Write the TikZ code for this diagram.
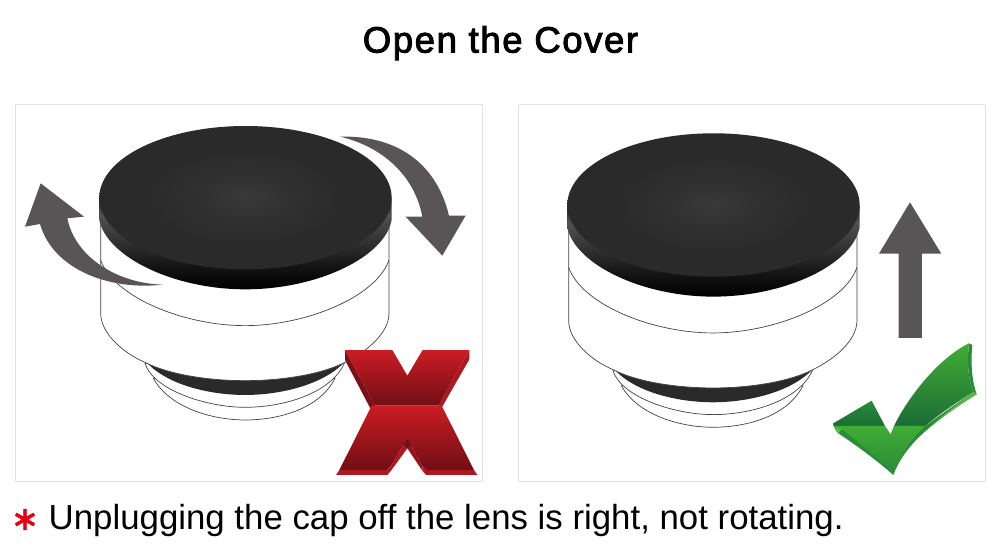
\documentclass[tikz,border=0pt]{standalone}
\usepackage{fontspec}
\setmainfont{Liberation Sans}
\newfontfamily\titlefont[FakeBold=2.6,LetterSpace=4.4]{Liberation Sans}
\newfontfamily\markfont[FakeBold=2.2]{DejaVu Sans}
\definecolor{arrowgrey}{HTML}{595556}
\definecolor{panelline}{HTML}{E3E3E3}
\definecolor{outline}{HTML}{444444}
\definecolor{capmid}{HTML}{393939}
\definecolor{capinner}{HTML}{303030}
\definecolor{capedge}{HTML}{2A2A2A}
\definecolor{xhi}{HTML}{CC1C24}
\definecolor{xlo}{HTML}{6E0F14}
\definecolor{xside}{HTML}{B0181F}
\definecolor{ghi}{HTML}{41AC35}
\definecolor{glo}{HTML}{1B6C36}
\definecolor{gmid}{HTML}{2A8C38}
\definecolor{gedge}{HTML}{58B947}
\pgfdeclareverticalshading{capside}{100bp}{
  color(0bp)=(black); color(25bp)=(black); color(38bp)=(black!92!white);
  color(52bp)=(black!80!white); color(66bp)=(black!68!white);
  color(72bp)=(black!82!white); color(75bp)=(black!85!white); color(100bp)=(black!85!white)}
\pgfdeclareradialshading{capface}{\pgfpoint{0bp}{0bp}}{
  color(0bp)=(capmid); color(8bp)=(capinner); color(17bp)=(capedge); color(50bp)=(capedge)}
\tikzset{
  panel/.style={draw=panelline,line width=0.8pt,fill=white},
  lensline/.style={draw=outline,line width=0.7pt,line join=round},
  turnarrow/.style={fill=arrowgrey},
  caption/.style={inner sep=0pt,anchor=base west,text=black}
}
% one lens, in tripled pixel units
\newcommand{\lensbody}{
  % threaded lower rings
  \draw[lensline,fill=white] (430,835) .. controls (480,925) and (610,960) .. (705,960)
    .. controls (810,960) and (930,925) .. (975,835) -- cycle;
  \draw[lensline,fill=white] (405,790) .. controls (430,870) and (590,922) .. (705,922)
    .. controls (830,922) and (970,875) .. (1005,785) -- cycle;
  \fill[capedge] (408,785) .. controls (470,855) and (600,885) .. (705,885)
    .. controls (810,885) and (940,855) .. (1005,785) -- cycle;
  % main barrel
  \draw[lensline,fill=white] (272,300) -- (272,640)
    .. controls (272,700) and (340,760) .. (405,787)
    .. controls (480,825) and (600,842) .. (705,842)
    .. controls (810,842) and (930,825) .. (1005,787)
    .. controls (1070,755) and (1137,700) .. (1137,640) -- (1137,300) -- cycle;
  \draw[lensline] (272,480) .. controls (310,590) and (520,677) .. (705,677)
    .. controls (890,677) and (1100,590) .. (1137,480);
  % cap rim and top face
  \shade[shading=capside] (268,295) -- (268,360)
    .. controls (290,470) and (490,568) .. (706,568)
    .. controls (925,568) and (1125,470) .. (1145,360) -- (1145,295) -- cycle;
  \shade[shading=capface] (706.5,293) ellipse [x radius=438.5,y radius=215];
}
\begin{document}
\begin{tikzpicture}[x=1pt,y=-1pt]
\useasboundingbox (0,0) rectangle (1000,554);
\fill[white] (0,0) rectangle (1000,554);
\node[inner sep=0pt,anchor=base,font=\titlefont\fontsize{36.5}{38}\selectfont] (title) at (500.5,52.5) {Open the Cover};
\draw[panel] (15.5,104.5) rectangle (482.5,481.5);
\draw[panel] (518.5,104.5) rectangle (985.5,481.5);

% left panel: rotating the cap
\begin{scope}[shift={(10,100)},x=0.3333pt,y=-0.3333pt]
  \lensbody
  \fill[turnarrow] (92,250) -- (222,350) -- (172,355)
    .. controls (195,470) and (320,550) .. (458,554)
    .. controls (300,572) and (130,510) .. (90,372) -- (45,380) -- cycle;
  \fill[turnarrow] (990,110) .. controls (1160,105) and (1280,190) .. (1317,347)
    -- (1367,347) -- (1297,467) -- (1187,350) -- (1237,350)
    .. controls (1215,230) and (1120,140) .. cycle;
\end{scope}

% red cross
\begin{scope}[shift={(330,340)},x=0.3333pt,y=-0.3333pt]
  \fill[xside!70!black] (45,30) -- (45,60) -- (122,207) -- (135,197) -- cycle;
  \fill[xside] (418,30) -- (418,58) -- (335,203) -- (325,197) -- cycle;
  \shade[top color=xhi,bottom color=xlo] (45,30) -- (187,30) -- (232,107) -- (278,30)
    -- (418,30) -- (325,197) -- (135,197) -- cycle;
  \shade[top color=xhi,bottom color=xlo] (125,197) -- (335,197) -- (432,390) -- (290,390)
    -- (277,378) -- (232,295) -- (183,378) -- (170,390) -- (28,390) -- cycle;
  \fill[xside] (18,405) -- (28,390) -- (170,390) -- (183,378) -- (183,392) -- (172,405) -- cycle;
  \fill[xside] (442,405) -- (432,390) -- (290,390) -- (277,378) -- (277,392) -- (288,405) -- cycle;
  % inner faces of the lower notch
  \fill[xside] (232,295) -- (183,378) -- (183,392) -- (232,325) -- cycle;
  \fill[xside!85!black] (232,295) -- (277,378) -- (277,392) -- (232,325) -- cycle;
  \fill[xlo] (232,295) -- (220,315) -- (232,325) -- (244,315) -- cycle;
\end{scope}

% right panel: lifting the cap straight off
\begin{scope}[shift={(478,107.3)},x=0.3333pt,y=-0.3333pt]
  \lensbody
\end{scope}
\begin{scope}[shift={(515,100)},x=0.3333pt,y=-0.3333pt]
  \fill[turnarrow] (1185,307) -- (1279,461) -- (1221,461) -- (1221,714)
    -- (1151,714) -- (1151,461) -- (1092,461) -- cycle;
\end{scope}

% green tick
\begin{scope}[shift={(825,335)},x=0.3333pt,y=-0.3333pt]
  % rim along the lower edge and the right end
  \fill[gmid] (25,263) .. controls (26,275) and (30,285) .. (40,295)
    .. controls (100,335) and (160,380) .. (205,420)
    .. controls (225,365) and (265,320) .. (305,285)
    .. controls (350,245) and (400,210) .. (455,178)
    -- (445,170) -- (300,273) -- (205,300) -- (100,285) -- (50,283) -- cycle;
  \fill[gmid] (432,25) -- (442,30) .. controls (436,90) and (442,140) .. (455,178)
    -- (445,170) .. controls (430,130) and (425,90) .. (432,25) -- cycle;
  \fill[gedge] (445,170) -- (455,178) .. controls (380,225) and (335,260) .. (300,290)
    .. controls (340,250) and (400,205) .. (445,170) -- cycle;
  \fill[gedge] (25,263) .. controls (26,275) and (30,285) .. (40,295) -- (50,283) -- (25,270) -- cycle;
  % faces
  \shade[top color=gmid,bottom color=glo] (25,265) -- (140,197) -- (180,273) -- (25,273) -- cycle;
  \shade[top color=ghi,bottom color=glo] (207,273)
    .. controls (250,185) and (340,70) .. (432,25)
    .. controls (425,90) and (430,130) .. (445,170)
    .. controls (390,205) and (340,240) .. (300,273) -- cycle;
  \shade[top color=ghi,bottom color=gmid] (25,273) -- (180,273) -- (197,298) -- (207,273)
    -- (300,273) .. controls (260,310) and (225,360) .. (205,412)
    .. controls (160,370) and (100,320) .. (50,283) -- cycle;
\end{scope}

\node[inner sep=0pt,text={rgb,255:red,230;green,0;blue,18},font=\markfont\fontsize{33}{33}\selectfont] (star) at (25,519.5) {∗};
\node[caption,font=\fontsize{34.82}{36}\selectfont] (note) at (48.5,529) {Unplugging the cap off the lens is right, not rotating.};
\end{tikzpicture}
\end{document}
